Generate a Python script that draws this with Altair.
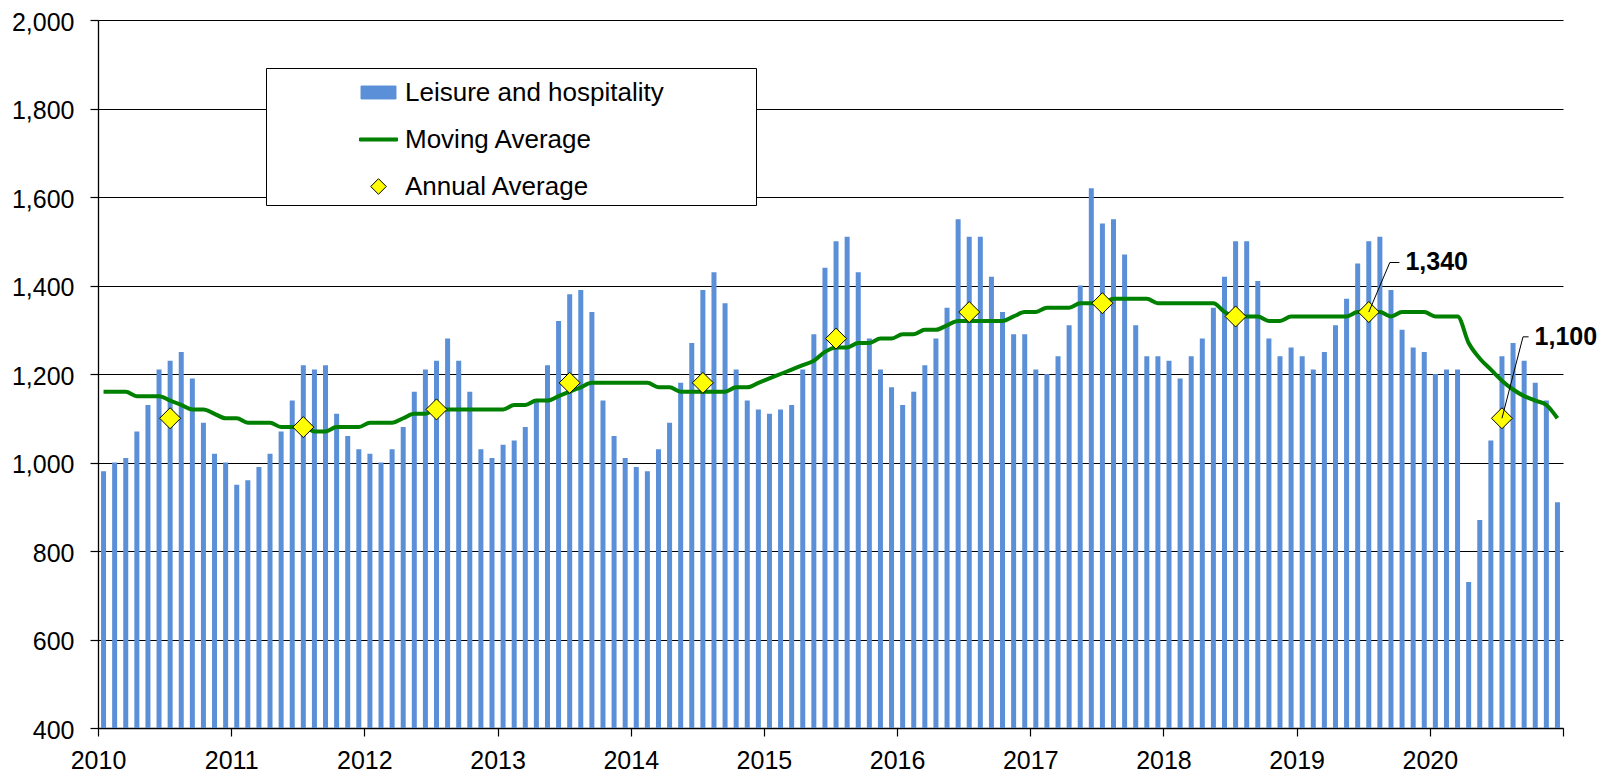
import altair as alt
import pandas as pd

# ---------------- data ----------------
years = list(range(2010, 2021))

leisure = {
    2010: [980, 1000, 1010, 1070, 1130, 1210, 1230, 1250, 1190, 1090, 1020, 1000],
    2011: [950, 960, 990, 1020, 1070, 1140, 1220, 1210, 1220, 1110, 1060, 1030],
    2012: [1020, 1000, 1030, 1080, 1160, 1210, 1230, 1280, 1230, 1160, 1030, 1010],
    2013: [1040, 1050, 1080, 1140, 1220, 1320, 1380, 1390, 1340, 1140, 1060, 1010],
    2014: [990, 980, 1030, 1090, 1180, 1270, 1390, 1430, 1360, 1210, 1140, 1120],
    2015: [1110, 1120, 1130, 1210, 1290, 1440, 1500, 1510, 1430, 1280, 1210, 1170],
    2016: [1130, 1160, 1220, 1280, 1350, 1550, 1510, 1510, 1420, 1340, 1290, 1290],
    2017: [1210, 1200, 1240, 1310, 1400, 1620, 1540, 1550, 1470, 1310, 1240, 1240],
    2018: [1230, 1190, 1240, 1280, 1350, 1420, 1500, 1500, 1410, 1280, 1240, 1260],
    2019: [1240, 1210, 1250, 1310, 1370, 1450, 1500, 1510, 1390, 1300, 1260, 1250],
    2020: [1200, 1210, 1210, 730, 870, 1050, 1240, 1270, 1230, 1180, 1140, 910],
}

moving_average = {
    2010: [1160, 1160, 1160, 1150, 1150, 1150, 1140, 1130, 1120, 1120, 1110, 1100],
    2011: [1100, 1090, 1090, 1090, 1080, 1080, 1080, 1070, 1070, 1080, 1080, 1080],
    2012: [1090, 1090, 1090, 1100, 1110, 1110, 1120, 1120, 1120, 1120, 1120, 1120],
    2013: [1120, 1130, 1130, 1140, 1140, 1150, 1160, 1170, 1180, 1180, 1180, 1180],
    2014: [1180, 1180, 1170, 1170, 1160, 1160, 1160, 1160, 1160, 1170, 1170, 1180],
    2015: [1190, 1200, 1210, 1220, 1230, 1250, 1260, 1260, 1270, 1270, 1280, 1280],
    2016: [1290, 1290, 1300, 1300, 1310, 1320, 1320, 1320, 1320, 1320, 1330, 1340],
    2017: [1340, 1350, 1350, 1350, 1360, 1360, 1360, 1370, 1370, 1370, 1370, 1360],
    2018: [1360, 1360, 1360, 1360, 1360, 1340, 1330, 1330, 1330, 1320, 1320, 1330],
    2019: [1330, 1330, 1330, 1330, 1330, 1340, 1340, 1340, 1330, 1340, 1340, 1340],
    2020: [1330, 1330, 1330, 1270, 1235, 1210, 1185, 1165, 1150, 1140, 1130, 1100],
}

annual_average = [1100, 1080, 1120, 1180, 1180, 1280, 1340, 1360, 1330, 1340, 1100]

annotated_years = [2019, 2020]
annotation_text = ["1,340", "1,100"]

legend_names = ["Leisure and hospitality", "Moving Average", "Annual Average"]

# ---------------- styling ----------------
FONT = "Liberation Sans, Arial, Helvetica, sans-serif"
BLUE = "#5B8FD7"
GREEN = "#008000"
YELLOW = "#FFFF00"

# ---------------- tables ----------------
monthly = pd.DataFrame(
    [
        {"x": y + (m + 0.5) / 12, "value": leisure[y][m], "ma": moving_average[y][m]}
        for y in years
        for m in range(12)
    ]
)
annual = pd.DataFrame(
    {"x": [y + 6.5 / 12 for y in years], "value": annual_average, "year": years}
)

# annotation geometry (label lift in value units, horizontal offsets in years)
label_lift = {2019: 112, 2020: 184}
label_shift = {2019: 0.275, 2020: 0.245}
ann_rows, seg_rows = [], []
for yr, txt in zip(annotated_years, annotation_text):
    v = annual_average[years.index(yr)]
    x0 = yr + 6.5 / 12
    ly = v + label_lift[yr]
    ann_rows.append({"x": x0 + label_shift[yr], "y": ly, "text": txt})
    seg_rows.append({"x": x0, "y": v, "x2": x0 + 0.158, "y2": ly})
    seg_rows.append({"x": x0 + 0.158, "y": ly, "x2": x0 + label_shift[yr] - 0.045, "y2": ly})
ann = pd.DataFrame(ann_rows)
segs = pd.DataFrame(seg_rows)

legend_data = alt.Data(values=[{"series": n, "x": None, "y": None} for n in legend_names])

x_scale = alt.Scale(domain=[2010, 2021], nice=False, zero=False, padding=0)
y_scale = alt.Scale(domain=[400, 2000], nice=False, zero=False)

x_axis = alt.Axis(
    values=list(range(2010, 2022)),
    labelExpr="datum.value < 2021 ? format(datum.value, 'd') : ''",
    title=None, grid=False, labelFont=FONT, labelFontSize=25, labelColor="black",
    tickSize=8, tickColor="black", tickWidth=1.2, domainColor="black", domainWidth=1.3,
    labelPadding=12, labelFlush=False, labelOverlap=False,
)
y_axis = alt.Axis(
    values=list(range(400, 2001, 200)), format=",d", title=None,
    labelFont=FONT, labelFontSize=25, labelColor="black", labelOffset=2,
    tickSize=8, tickColor="black", tickWidth=1.2, domainColor="black", domainWidth=1.3,
    grid=True, gridColor="black", gridWidth=1.1, labelPadding=16, labelOverlap=False,
)

X = alt.X("x:Q", scale=x_scale, axis=x_axis)
Y = alt.Y("value:Q", scale=y_scale, axis=y_axis)

bars = alt.Chart(monthly).mark_bar(size=5, color=BLUE).encode(
    x=X, y=Y, y2=alt.datum(400)
)

line = alt.Chart(monthly).mark_line(color=GREEN, strokeWidth=4, interpolate="monotone").encode(
    x=alt.X("x:Q", scale=x_scale), y=alt.Y("ma:Q", scale=y_scale)
)

diamonds = alt.Chart(annual).mark_point(
    shape="diamond", filled=True, size=441, fill=YELLOW, stroke="black",
    strokeWidth=1, opacity=1
).encode(x=alt.X("x:Q", scale=x_scale), y=alt.Y("value:Q", scale=y_scale))

leaders = alt.Chart(segs).mark_rule(color="black", strokeWidth=1).encode(
    x=alt.X("x:Q", scale=x_scale), y=alt.Y("y:Q", scale=y_scale),
    x2="x2:Q", y2="y2:Q"
)

labels = alt.Chart(ann).mark_text(
    align="left", baseline="middle", font=FONT, fontSize=25, fontWeight="bold", color="black"
).encode(x=alt.X("x:Q", scale=x_scale), y=alt.Y("y:Q", scale=y_scale), text="text:N")

# legend: symbols drawn by Vega's own legend from a layer without visible marks
rect_path = "M-0.92,-0.34L0.92,-0.34L0.92,0.34L-0.92,0.34Z"
line_path = "M-1,-0.08L1,-0.08L1,0.08L-1,0.08Z"
diamond_path = "M-0.41,0L0,-0.41L0.41,0L0,0.41Z"
pad_right = "\u00a0" * 12 + "\u200b"
legend = alt.Legend(
    title=None, orient="none", legendX=168, legendY=48, direction="vertical",
    strokeColor="black", fillColor="white", padding=5,
    symbolOffset=88, labelOffset=7, symbolSize=1444, symbolStrokeWidth=1,
    labelFont=FONT, labelFontSize=26, labelColor="black", labelLimit=800,
    rowPadding=14,
    labelExpr="datum.label == 'Leisure and hospitality' ? datum.label + '" + pad_right + "' : datum.label",
)
legend_layer = alt.Chart(legend_data).mark_point(filled=True, size=1444, strokeWidth=1, opacity=1).encode(
    x=alt.X("x:Q", scale=x_scale),
    y=alt.Y("y:Q", scale=y_scale),
    fill=alt.Fill("series:N", scale=alt.Scale(domain=legend_names, range=[BLUE, GREEN, YELLOW]), legend=legend),
    stroke=alt.Stroke("series:N", scale=alt.Scale(domain=legend_names, range=[BLUE, GREEN, "black"])),
    shape=alt.Shape("series:N", scale=alt.Scale(domain=legend_names, range=[rect_path, line_path, diamond_path])),
)

chart = (
    alt.layer(bars, line, diamonds, leaders, labels, legend_layer)
    .properties(
        width=1465, height=708,
        padding={"left": 90, "top": 12, "right": 35, "bottom": 44},
        autosize=alt.AutoSizeParams(type="none"),
        background="white",
    )
    .configure_view(stroke=None)
)

chart.save("out.html", embed_options={"renderer": "svg", "actions": False})
